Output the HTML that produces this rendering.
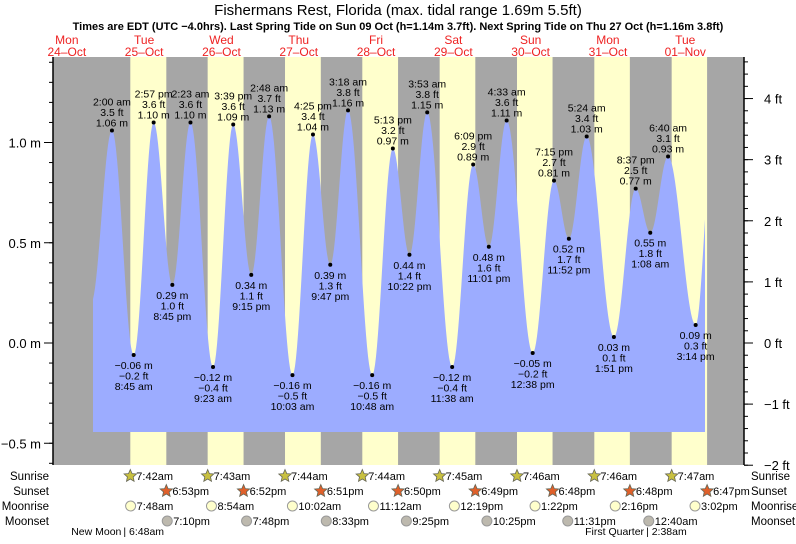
<!DOCTYPE html>
<html><head><meta charset="utf-8"><style>
body{margin:0;background:#fff;width:796px;height:539px;overflow:hidden;font-family:"Liberation Sans",sans-serif}
svg text{font-family:"Liberation Sans",sans-serif}
</style></head><body>
<svg id="c" width="796" height="539" xmlns="http://www.w3.org/2000/svg">
<text x="398" y="15" text-anchor="middle" font-size="15">Fishermans Rest, Florida (max. tidal range 1.69m 5.5ft)</text>
<text x="398" y="30" text-anchor="middle" font-size="11" font-weight="bold">Times are EDT (UTC −4.0hrs). Last Spring Tide on Sun 09 Oct (h=1.14m 3.7ft). Next Spring Tide on Thu 27 Oct (h=1.16m 3.8ft)</text>
<g id="plot"></g>
</svg>
<script>
const dayNames=["Mon","Tue","Wed","Thu","Fri","Sat","Sun","Mon","Tue"];
const dayDates=["24\u2013Oct","25\u2013Oct","26\u2013Oct","27\u2013Oct","28\u2013Oct","29\u2013Oct","30\u2013Oct","31\u2013Oct","01\u2013Nov"];
const tideDay=[0,0,0,0,1,1,1,1,2,2,2,2,3,3,3,3,4,4,4,4,5,5,5,5,6,6,6,7,7,7];
const tideHour=[2.0,8.75,14.95,20.75,2.383,9.383,15.65,21.25,2.8,10.05,16.417,21.783,3.3,10.8,17.217,22.367,3.883,11.633,18.15,23.017,4.55,12.633,19.25,23.867,5.4,13.85,20.617,1.133,6.667,15.233];
const tideM=[1.06,-0.06,1.10,0.29,1.10,-0.12,1.09,0.34,1.13,-0.16,1.04,0.39,1.16,-0.16,0.97,0.44,1.15,-0.12,0.89,0.48,1.11,-0.05,0.81,0.52,1.03,0.03,0.77,0.55,0.93,0.09];
const tideFt=["3.5","\u22120.2","3.6","1.0","3.6","\u22120.4","3.6","1.1","3.7","\u22120.5","3.4","1.3","3.8","\u22120.5","3.2","1.4","3.8","\u22120.4","2.9","1.6","3.6","\u22120.2","2.7","1.7","3.4","0.1","2.5","1.8","3.1","0.3"];
const tideTime=["2:00 am","8:45 am","2:57 pm","8:45 pm","2:23 am","9:23 am","3:39 pm","9:15 pm","2:48 am","10:03 am","4:25 pm","9:47 pm","3:18 am","10:48 am","5:13 pm","10:22 pm","3:53 am","11:38 am","6:09 pm","11:01 pm","4:33 am","12:38 pm","7:15 pm","11:52 pm","5:24 am","1:51 pm","8:37 pm","1:08 am","6:40 am","3:14 pm"];
const sunriseH=[7.7,7.717,7.733,7.733,7.75,7.767,7.767,7.783];
const sunriseL=["7:42am","7:43am","7:44am","7:44am","7:45am","7:46am","7:46am","7:47am"];
const sunsetH=[18.883,18.867,18.85,18.833,18.817,18.8,18.8,18.783];
const sunsetL=["6:53pm","6:52pm","6:51pm","6:50pm","6:49pm","6:48pm","6:48pm","6:47pm"];
const moonriseH=[7.8,8.9,10.033,11.2,12.317,13.367,14.267,15.033];
const moonriseL=["7:48am","8:54am","10:02am","11:12am","12:19pm","1:22pm","2:16pm","3:02pm"];
const moonsetD=[0,1,2,3,4,5,7];
const moonsetH=[19.167,19.8,20.55,21.417,22.417,23.517,0.667];
const moonsetL=["7:10pm","7:48pm","8:33pm","9:25pm","10:25pm","11:31pm","12:40am"];
const mTicks=[-0.5,0.0,0.5,1.0];
const mTickLabels=["\u22120.5 m","0.0 m","0.5 m","1.0 m"];
const ftTicks=[-2,-1,0,1,2,3,4];
const ftTickLabels=["\u22122 ft","\u22121 ft","0 ft","1 ft","2 ft","3 ft","4 ft"];

const X0=105.5,PPD=77.3,Y0=343,PPM=200.5;
const L=53,R=744,T=57,B=465,dataL=93,dataR=705,blueB=432;
const tx=(d,h)=>X0+(d+h/24)*PPD;
const ym=v=>Y0-v*PPM;
const NS="http://www.w3.org/2000/svg";
const g=document.getElementById('plot');
function el(tag,attrs,txt){const e=document.createElementNS(NS,tag);for(const k in attrs)e.setAttribute(k,attrs[k]);if(txt!==undefined)e.textContent=txt;g.appendChild(e);return e;}
let bg=el('rect',{x:L,y:T,width:R-L,height:B-T,fill:'#a6a6a6'});


for(let i=0;i<8;i++){
  const x1=tx(i,sunriseH[i]),x2=tx(i,sunsetH[i]);
  const r=el('rect',{x:x1,y:T,width:x2-x1,height:B-T,fill:'#ffffcc'});
  
  
}
const ex=[{x:tx(-1,19.5),v:0.2}];
for(let i=0;i<tideM.length;i++)ex.push({x:tx(tideDay[i],tideHour[i]),v:tideM[i]});
ex.push({x:tx(7,20.5),v:1.0});
let pts=[];
for(let x=dataL;x<=dataR;x+=1){
  let k=0;while(k<ex.length-2&&ex[k+1].x<x)k++;
  const a=ex[k],b=ex[k+1];const t=(x-a.x)/(b.x-a.x);
  const v=a.v+(b.v-a.v)*(1-Math.cos(Math.PI*t))/2;
  pts.push(x.toFixed(1)+','+ym(v).toFixed(1));
}
let p=el('path',{d:'M'+dataL+','+blueB+' L'+pts.join(' L')+' L'+dataR+','+blueB+' Z',fill:'#9cacff'});


for(let i=0;i<tideM.length;i++){
  const x=tx(tideDay[i],tideHour[i]),y=ym(tideM[i]);
  const hi=(i===0)||(tideM[i]>tideM[i-1]);
  const d=el('circle',{cx:x,cy:y,r:2,fill:'#000'});
  
  
  const ms=(tideM[i]<0?'\u2212'+Math.abs(tideM[i]).toFixed(2):tideM[i].toFixed(2))+' m';
  const lines=hi?[tideTime[i],tideFt[i]+' ft',ms]:[ms,tideFt[i]+' ft',tideTime[i]];
  const base=hi?y-25:y+14;
  lines.forEach((s,j)=>{
    const t=el('text',{x:x,y:base+j*10.5,'text-anchor':'middle','font-size':'10.5',fill:'#000'},s);
    
    
  });
}
for(let i=0;i<9;i++){
  const x=tx(i-1,12);
  const a=el('text',{x:x,y:44,'text-anchor':'middle','font-size':'12',fill:'#ee2222'},dayNames[i]);
  
  
  const b=el('text',{x:x,y:56,'text-anchor':'middle','font-size':'12',fill:'#ee2222'},dayDates[i]);
  
  
}
let la=el('line',{x1:L,y1:T,x2:L,y2:B,stroke:'#000','stroke-width':1.5});


let ra=el('line',{x1:R,y1:T,x2:R,y2:B,stroke:'#000','stroke-width':1.5});


for(let v=-0.6;v<=1.41;v+=0.1){const y=ym(v);if(y<T||y>B)continue;el('line',{x1:L-4,y1:y,x2:L,y2:y,stroke:'#000'});}
mTicks.forEach((v,i)=>{const y=ym(v);el('line',{x1:L-9,y1:y,x2:L,y2:y,stroke:'#000'});
 const t=el('text',{x:L-12,y:y+5,'text-anchor':'end','font-size':'13'},mTickLabels[i]);
 
 });
for(let f=-2;f<=4.61;f+=0.2){const y=ym(f*0.3048);if(y<T||y>B+1)continue;el('line',{x1:R,y1:y,x2:R+4,y2:y,stroke:'#000'});}
ftTicks.forEach((f,i)=>{const y=ym(f*0.3048);el('line',{x1:R,y1:y,x2:R+9,y2:y,stroke:'#000'});
 const t=el('text',{x:R+20,y:y+5,'font-size':'13'},ftTickLabels[i]);
 
 });
const rows=["Sunrise","Sunset","Moonrise","Moonset"],rowY=[476,491,506,521];
rows.forEach((r,i)=>{
 const a=el('text',{x:49,y:rowY[i]+4,'text-anchor':'end','font-size':'11.5'},r);
 
 
 const b=el('text',{x:751,y:rowY[i]+4,'font-size':'11.5'},r);
 
 
});
function star(cx,cy,fill){let s='';for(let k=0;k<10;k++){const r=k%2?3:6.5,a=-Math.PI/2+k*Math.PI/5;s+=(cx+r*Math.cos(a)).toFixed(1)+','+(cy+r*Math.sin(a)).toFixed(1)+' ';}
 return el('polygon',{points:s,fill:fill,stroke:'#665','stroke-width':0.8});}
function evt(x,y,kind,label){
 let e;
 if(kind==='sr')e=star(x,y,'#c8c040');
 else if(kind==='ss')e=star(x,y,'#e0602a');
 else e=el('circle',{cx:x,cy:y,r:5,fill:kind==='mr'?'#ffffcc':'#bdb9ae',stroke:'#999'});
 
 
 const t=el('text',{x:x+6,y:y+4,'font-size':'11'},label);
 
 
}
for(let i=0;i<8;i++){
 evt(tx(i,sunriseH[i]),rowY[0],'sr',sunriseL[i]);
 evt(tx(i,sunsetH[i]),rowY[1],'ss',sunsetL[i]);
 evt(tx(i,moonriseH[i]),rowY[2],'mr',moonriseL[i]);
}
for(let i=0;i<moonsetL.length;i++)evt(tx(moonsetD[i],moonsetH[i]),rowY[3],'ms',moonsetL[i]);
let nm=el('text',{x:tx(0,6.8)-6,y:535,'text-anchor':'end','font-size':'10.5'},'New Moon');


let nm2=el('text',{x:tx(0,6.8)-4,y:535,'font-size':'10.5'},'| 6:48am');


let fq=el('text',{x:tx(7,2.63)-11,y:535,'text-anchor':'end','font-size':'10.5'},'First Quarter');


let fq2=el('text',{x:tx(7,2.63)-9,y:535,'font-size':'10.5'},'| 2:38am');


</script>
</body></html>
